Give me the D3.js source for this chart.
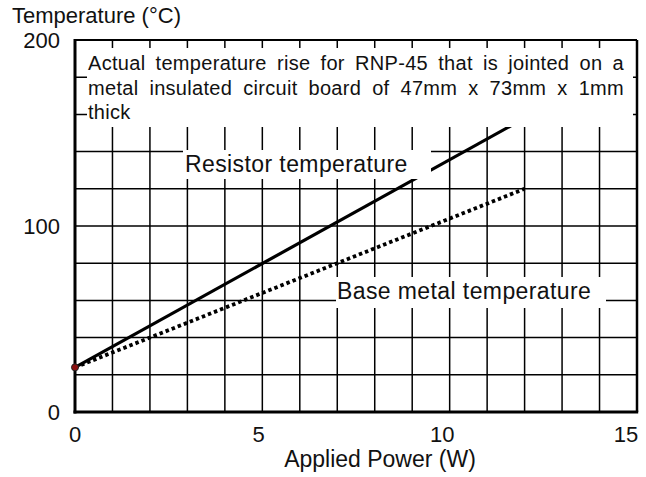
<!DOCTYPE html>
<html>
<head>
    <meta charset="utf-8">
    <script src="https://d3js.org/d3.v7.min.js"></script>
    <style>
        body { margin: 0; background: #fff; }
        text { font-family: "Liberation Sans", Arial, sans-serif; fill: #111; }
    </style>
</head>
<body>
    <svg id="chart" width="646" height="477"></svg>

    <script>
        // data
        const powerTicks = [0, 5, 10, 15];
        const tempTicks = [0, 100, 200];
        const resistorPower = [0, 12];
        const resistorTemp = [24, 158];
        const basePower = [0, 12];
        const baseTemp = [24, 120];
        const noteLines = [
            "Actual temperature rise for RNP-45 that is jointed on a",
            "metal insulated circuit board of 47mm x 73mm x 1mm",
            "thick"
        ];

        const svg = d3.select("#chart"),
            width = +svg.attr("width"),
            height = +svg.attr("height");
        const margin = {top: 40, right: 9, bottom: 65, left: 75};

        const x = d3.scaleLinear().domain([0, 15]).range([margin.left, width - margin.right]);
        const y = d3.scaleLinear().domain([0, 200]).range([height - margin.bottom, margin.top]);
        // the tick numbers sit a little left of the grid in the original
        const xLabel = d3.scaleLinear().domain([0, 15]).range([x(0), x(15) - 11]);

        // grid: 1 W and 20 °C steps
        const grid = svg.append("g").attr("stroke", "#000").attr("stroke-width", 1.5);
        grid.selectAll(".gx").data(d3.range(1, 15)).join("line")
            .attr("x1", d => x(d)).attr("x2", d => x(d))
            .attr("y1", y(0)).attr("y2", y(200));
        grid.selectAll(".gy").data(d3.range(20, 200, 20)).join("line")
            .attr("x1", x(0)).attr("x2", x(15))
            .attr("y1", d => y(d)).attr("y2", d => y(d));

        const line = d3.line().x(d => x(d[0])).y(d => y(d[1]));

        svg.append("path")
            .datum(resistorPower.map((p, i) => [p, resistorTemp[i]]))
            .attr("d", line).attr("fill", "none")
            .attr("stroke", "#000").attr("stroke-width", 3.2);

        svg.append("path")
            .datum(basePower.map((p, i) => [p, baseTemp[i]]))
            .attr("d", line).attr("fill", "none")
            .attr("stroke", "#000").attr("stroke-width", 3.8)
            .attr("stroke-dasharray", "3.5,3");

        // white boxes behind texts (they hide grid and line)
        svg.append("rect").attr("x", 87).attr("y", 48).attr("width", 546).attr("height", 79).attr("fill", "#fff");
        svg.append("rect").attr("x", 183).attr("y", 150).attr("width", 248).attr("height", 29).attr("fill", "#fff");
        svg.append("rect").attr("x", 336).attr("y", 277).attr("width", 270).attr("height", 31).attr("fill", "#fff");

        // frame
        const frame = svg.append("g").attr("stroke", "#000").attr("fill", "none");
        frame.append("line").attr("x1", x(0)).attr("x2", x(15)).attr("y1", y(200)).attr("y2", y(200)).attr("stroke-width", 2);
        frame.append("line").attr("x1", x(15)).attr("x2", x(15)).attr("y1", y(200)).attr("y2", y(0)).attr("stroke-width", 2.5);
        frame.append("line").attr("x1", x(0)).attr("x2", x(0)).attr("y1", y(200) - 1).attr("y2", y(0) + 1.5).attr("stroke-width", 3);
        frame.append("line").attr("x1", x(0) - 1.5).attr("x2", x(15) + 1.2).attr("y1", y(0)).attr("y2", y(0)).attr("stroke-width", 3);

        // starting point
        svg.append("circle").attr("cx", x(resistorPower[0])).attr("cy", y(resistorTemp[0]))
            .attr("r", 3.5).attr("fill", "#8b1010").attr("stroke", "#222").attr("stroke-width", 1);

        // tick labels
        svg.selectAll(".xt").data(powerTicks).join("text")
            .attr("x", d => xLabel(d)).attr("y", 442)
            .attr("text-anchor", "middle").attr("font-size", 22).text(d => d);
        svg.selectAll(".yt").data(tempTicks).join("text")
            .attr("x", 60).attr("y", d => y(d) + 8)
            .attr("text-anchor", "end").attr("font-size", 22).text(d => d);

        svg.append("text").attr("x", 12).attr("y", 23).attr("font-size", 22).text("Temperature (°C)");
        svg.append("text").attr("x", 380).attr("y", 467).attr("text-anchor", "middle")
            .attr("font-size", 23).text("Applied Power (W)");

        svg.append("text").attr("x", 185).attr("y", 172).attr("font-size", 23)
            .attr("letter-spacing", 0.4).text("Resistor temperature");
        svg.append("text").attr("x", 337).attr("y", 299).attr("font-size", 23)
            .attr("letter-spacing", 0.4).text("Base metal temperature");

        // justified note
        const left = 88, right = 624;
        const baselines = [70, 94.5, 118.5];
        noteLines.forEach((str, i) => {
            const t = svg.append("text").attr("y", baselines[i])
                .attr("font-size", 20).attr("letter-spacing", 0.3);
            if (i === noteLines.length - 1) {
                t.attr("x", left).text(str);
                return;
            }
            const words = str.split(" ");
            const spans = words.map(w => t.append("tspan").text(w));
            const widths = spans.map(s => s.node().getComputedTextLength());
            const gap = (right - left - d3.sum(widths)) / (words.length - 1);
            let cx = left;
            spans.forEach((s, j) => { s.attr("x", cx); cx += widths[j] + gap; });
        });
    </script>
</body>
</html>
